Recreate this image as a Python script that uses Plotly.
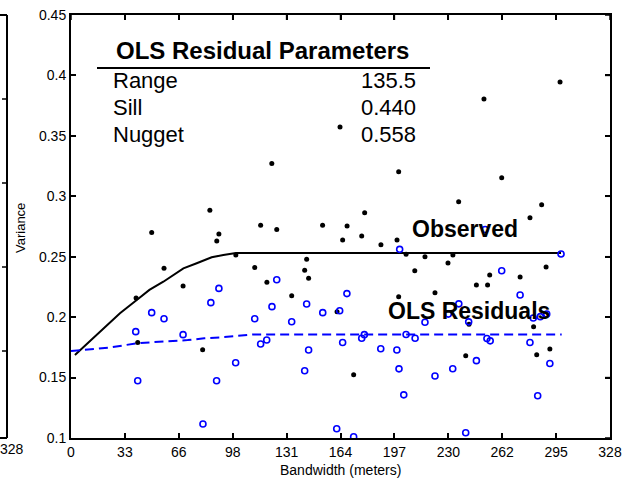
import plotly.graph_objects as go

# ---------------- data ----------------
obs_x = [39.6, 40.6, 49.1, 56.6, 68.2, 80.1, 84.5, 88.7, 90.0, 100.3,
         111.8, 115.4, 119.2, 122.2, 125.2, 134.3, 142.2, 143.4, 144.6, 153.1,
         161.9, 163.7, 165.3, 168.0, 172.0, 176.9, 178.7, 188.6, 198.4, 199.4,
         199.4, 203.9, 209.2, 215.4, 221.5, 229.4, 232.4, 235.9, 240.2, 242.2,
         246.7, 251.3, 253.5, 254.8, 262.1, 273.3, 279.3, 281.5, 283.4, 286.4,
         289.1, 291.4, 297.6]
obs_y = [0.2158, 0.1790, 0.2700, 0.2405, 0.2258, 0.1730, 0.2885, 0.2630, 0.2688, 0.2515,
         0.2410, 0.2760, 0.2288, 0.3272, 0.2726, 0.2178, 0.2388, 0.2480, 0.2322, 0.2760,
         0.2044, 0.3573, 0.2638, 0.2754, 0.1524, 0.2671, 0.2864, 0.2600, 0.2638, 0.3203,
         0.2169, 0.2520, 0.2384, 0.2500, 0.2202, 0.2448, 0.2514, 0.2955, 0.1681, 0.1941,
         0.2266, 0.3805, 0.2266, 0.2349, 0.3154, 0.2332, 0.2823, 0.1921, 0.1689, 0.2930,
         0.2415, 0.1737, 0.3946]

res_x = [39.4, 40.6, 49.1, 56.6, 68.2, 80.3, 85.1, 88.6, 90.0, 100.2,
         111.8, 115.4, 119.1, 122.3, 125.2, 134.3, 142.2, 143.4, 144.6, 153.2,
         161.7, 163.5, 165.3, 167.9, 172.0, 176.9, 178.5, 188.5, 198.3, 199.6,
         200.0, 202.5, 203.9, 209.4, 215.4, 221.5, 229.6, 232.3, 236.0, 240.2,
         242.0, 246.7, 252.0, 253.1, 255.1, 262.1, 273.3, 279.3, 281.3, 284.0,
         285.6, 289.5, 291.4, 298.2]
res_y = [0.1880, 0.1474, 0.2037, 0.1987, 0.1855, 0.1116, 0.2120, 0.1474, 0.2238, 0.1623,
         0.1987, 0.1778, 0.1811, 0.2087, 0.2310, 0.1962, 0.1557, 0.2109, 0.1728, 0.2037,
         0.1077, 0.2053, 0.1790, 0.2195, 0.1010, 0.1825, 0.1855, 0.1739, 0.1728, 0.1572,
         0.2561, 0.1357, 0.1856, 0.1825, 0.1958, 0.1513, 0.2025, 0.1573, 0.2110, 0.1044,
         0.1961, 0.1640, 0.2725, 0.1823, 0.1804, 0.2384, 0.2183, 0.1790, 0.1993, 0.1350,
         0.2004, 0.2026, 0.1616, 0.2523]

obs_model_x = [2.4, 13.6, 20.7, 29.8, 40.0, 47.7, 56.2, 68.4, 76.5, 85.6, 92.7, 100.4, 298.2]
obs_model_y = [0.1687, 0.1825, 0.1920, 0.2032, 0.2142, 0.2225, 0.2293, 0.2404, 0.2446, 0.2495,
               0.2514, 0.2530, 0.2530]

res_model_x = [0.0, 24.3, 40.6, 54.8, 71.0, 81.1, 93.3, 110.8, 298.6]
res_model_y = [0.1720, 0.1750, 0.1785, 0.1795, 0.1810, 0.1825, 0.1835, 0.1857, 0.1857]

x_max = 328
x_tick_labels = ["0", "33", "66", "98", "131", "164", "197", "230", "262", "295", "328"]
y_ticks = [0.1, 0.15, 0.2, 0.25, 0.3, 0.35, 0.4, 0.45]
param_names = ["Range", "Sill", "Nugget"]
param_values = ["135.5", "0.440", "0.558"]
left_panel_label = "328"

# ---------------- figure ----------------
W, H = 629, 485
FONT = "Liberation Sans, Arial, sans-serif"
BLUE = "#0000ff"


def px_x(p):
    return p / W


def px_y(p):
    return 1 - p / H


fig = go.Figure()
fig.add_trace(go.Scatter(x=obs_model_x, y=obs_model_y, mode="lines",
                         line=dict(color="black", width=2), showlegend=False))
fig.add_trace(go.Scatter(x=res_model_x, y=res_model_y, mode="lines",
                         line=dict(color=BLUE, width=2, dash="9px,5px"), showlegend=False))
fig.add_trace(go.Scatter(x=obs_x, y=obs_y, mode="markers",
                         marker=dict(color="black", size=5, symbol="circle"), showlegend=False))
fig.add_trace(go.Scatter(x=res_x, y=res_y, mode="markers",
                         marker=dict(color=BLUE, size=6, symbol="circle-open",
                                     line=dict(color=BLUE, width=1.6)), showlegend=False))

tick_step = x_max / 10
x_ticks = [i * tick_step for i in range(len(x_tick_labels))]
common = dict(showgrid=False, zeroline=False, showline=True, linecolor="black", linewidth=2,
              mirror="ticks", ticks="inside", ticklen=5, tickwidth=1.5, tickcolor="black",
              automargin=False, tickfont=dict(size=14, family=FONT, color="black"))
LEFT, RIGHT, TOP, BOTTOM = 71, 610, 15, 438
XDOM = [px_x(LEFT), px_x(RIGHT)]
YDOM = [px_y(BOTTOM), px_y(TOP)]

fig.update_layout(
    width=W, height=H,
    margin=dict(l=0, r=0, t=0, b=0, autoexpand=False),
    paper_bgcolor="white", plot_bgcolor="white",
    font=dict(family=FONT, color="black", size=14),
    xaxis=dict(domain=XDOM, range=[0, x_max], tickvals=x_ticks, ticktext=x_tick_labels, **common),
    yaxis=dict(domain=YDOM, range=[0.1, 0.45], tickvals=y_ticks, **common),
)

ann = []
ann.append(dict(text="Bandwidth (meters)", xref="paper", yref="paper", x=px_x(340), y=px_y(470),
                showarrow=False, font=dict(size=14, family=FONT), xanchor="center", yanchor="middle"))
ann.append(dict(text="Variance", xref="paper", yref="paper", x=px_x(20), y=px_y(228),
                showarrow=False, textangle=-90, font=dict(size=13, family=FONT),
                xanchor="center", yanchor="middle"))
ann.append(dict(text=left_panel_label, xref="paper", yref="paper", x=px_x(12), y=px_y(449),
                showarrow=False, font=dict(size=14, family=FONT), xanchor="center", yanchor="middle"))
ann.append(dict(text="<b>OLS Residual Parameters</b>", xref="paper", yref="paper",
                x=px_x(262), y=px_y(51), showarrow=False, font=dict(size=24, family=FONT),
                xanchor="center", yanchor="middle"))
row_y = [81, 107, 134]
for name, val, ry in zip(param_names, param_values, row_y):
    ann.append(dict(text=name, xref="paper", yref="paper", x=px_x(111), y=px_y(ry),
                    showarrow=False, font=dict(size=22, family=FONT), xanchor="left", yanchor="middle"))
    ann.append(dict(text=val, xref="paper", yref="paper", x=px_x(418), y=px_y(ry),
                    showarrow=False, font=dict(size=22, family=FONT), xanchor="right", yanchor="middle"))
ann.append(dict(text="<b>Observed</b>", xref="paper", yref="paper", x=px_x(465), y=px_y(229),
                showarrow=False, font=dict(size=23, family=FONT), xanchor="center", yanchor="middle"))
ann.append(dict(text="<b>OLS Residuals</b>", xref="paper", yref="paper", x=px_x(469), y=px_y(311),
                showarrow=False, font=dict(size=23, family=FONT), xanchor="center", yanchor="middle"))
fig.update_layout(annotations=ann)

# rule under the table heading
fig.add_shape(type="line", xref="paper", yref="paper", x0=px_x(97), x1=px_x(430),
              y0=px_y(68), y1=px_y(68), line=dict(color="black", width=2))

# explicit top and right box edges with their tick marks
fig.add_shape(type="line", xref="paper", yref="paper", x0=px_x(LEFT - 2), x1=px_x(RIGHT + 2),
              y0=px_y(TOP - 1), y1=px_y(TOP - 1), line=dict(color="black", width=2))
fig.add_shape(type="line", xref="paper", yref="paper", x0=px_x(RIGHT + 1), x1=px_x(RIGHT + 1),
              y0=px_y(BOTTOM + 2), y1=px_y(TOP - 2), line=dict(color="black", width=2))
for xv in x_ticks:
    fig.add_shape(type="line", xref="x", yref="paper", x0=xv, x1=xv,
                  y0=px_y(TOP), y1=px_y(TOP + 5), line=dict(color="black", width=1.5))
for yv in y_ticks:
    fig.add_shape(type="line", xref="paper", yref="y", x0=px_x(RIGHT), x1=px_x(RIGHT - 5),
                  y0=yv, y1=yv, line=dict(color="black", width=1.5))

# edge of the neighbouring (cut-off) panel on the left
LP_X = 7
fig.add_shape(type="line", xref="paper", yref="paper", x0=px_x(LP_X), x1=px_x(LP_X),
              y0=YDOM[0], y1=YDOM[1], line=dict(color="black", width=2))
for yy in (TOP, BOTTOM):
    fig.add_shape(type="line", xref="paper", yref="paper", x0=0, x1=px_x(LP_X),
                  y0=px_y(yy), y1=px_y(yy), line=dict(color="black", width=2))
for yy in (99, 183, 267, 351):
    fig.add_shape(type="line", xref="paper", yref="paper", x0=px_x(LP_X - 5), x1=px_x(LP_X),
                  y0=px_y(yy), y1=px_y(yy), line=dict(color="black", width=1.5))

fig.write_html("out.html")
